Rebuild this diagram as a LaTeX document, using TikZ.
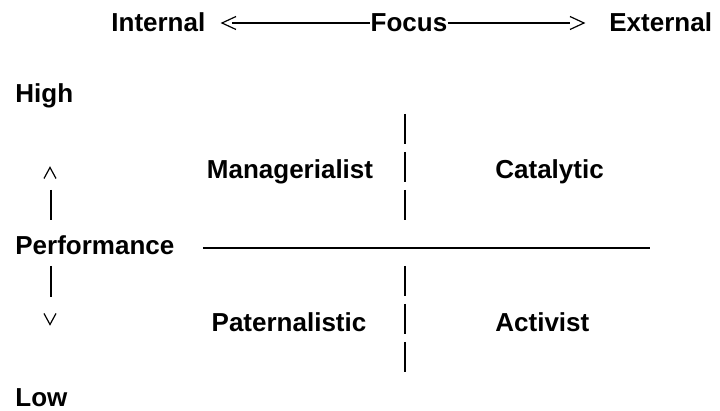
\documentclass[tikz,border=0pt]{standalone}
\usepackage{fontspec}
\setmainfont{Liberation Sans}
\begin{document}
\begin{tikzpicture}[x=0.5pt,y=-0.5pt,
	every node/.style={font=\fontsize{13}{15}\selectfont\bfseries,inner sep=0pt,anchor=base west}]
	\useasboundingbox (0,0) rectangle (720,411);
	\node (internal) at (111,32) {Internal};
	\node[anchor=base] (focus) at (409,32) {Focus};
	\node (external) at (609,32) {External};
	\node (high) at (15,103) {High};
	\node (perf) at (15,255) {Performance};
	\node (low) at (15,407) {Low};
	\node[anchor=base] (manag) at (290,179) {Managerialist};
	\node (catal) at (495,179) {Catalytic};
	\node[anchor=base] (patern) at (289,332) {Paternalistic};
	\node (activ) at (495,332) {Activist};
	\coordinate (I) at (222,23);
	\coordinate (E) at (584,23);
	\coordinate (P) at (203,248);
	\coordinate (Q) at (650,248);
	\coordinate (U) at (50,173);
	\coordinate (D) at (50,319);
	% focus axis
	\draw [line width=0.6pt] (I) ++(14,-6.5) -- (I) -- ++(14,6.5);
	\draw [line width=0.6pt] (E) ++(-14,-6.5) -- (E) -- ++(-14,6.5);
	\draw [line width=0.75pt] ([xshift=5pt]I) to (I -| focus.west);
	\draw [line width=0.75pt] (E -| focus.east) to ([xshift=-7pt]E);
	% performance axis
	\draw [line width=1pt] (P) to (Q);
	\draw [line width=0.6pt] (U) ++(-6,5.5) -- ++(6,-11) -- ++(6,11);
	\draw [line width=0.6pt] (D) ++(-6,-5.5) -- ++(6,11) -- ++(6,-11);
	\draw [line width=1pt] (51,190) to (51,220);
	\draw [line width=1pt] (51,266) to (51,297);
	% quadrant divider
	\draw [line width=1pt] (405,114) to (405,144);
	\draw [line width=1pt] (405,152) to (405,182);
	\draw [line width=1pt] (405,190) to (405,220);
	\draw [line width=1pt] (405,266) to (405,296);
	\draw [line width=1pt] (405,304) to (405,334);
	\draw [line width=1pt] (405,342) to (405,372);
\end{tikzpicture}
\end{document}
